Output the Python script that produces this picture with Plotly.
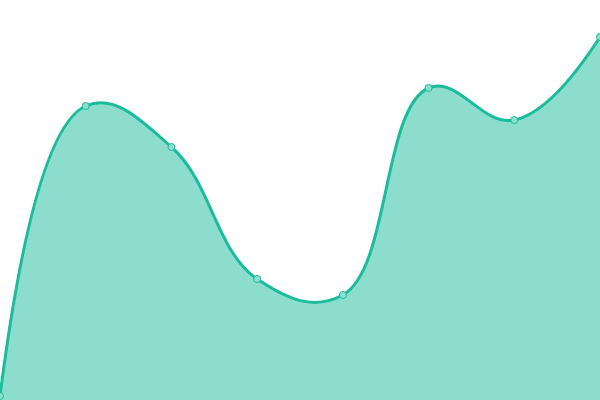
import plotly.graph_objects as go

x_vals = [0, 1, 2, 3, 4, 5, 6, 7]
y_vals = [4, 294, 253, 121, 105, 312, 280, 363]

fig = go.Figure()
fig.add_trace(go.Scatter(
    x=x_vals, y=y_vals,
    mode="lines+markers",
    line=dict(color="#1abc9c", width=3, shape="spline", smoothing=1.2),
    fill="tozeroy",
    fillcolor="rgba(26,188,156,0.5)",
    marker=dict(size=7, color="#8ce0cf", line=dict(color="#1abc9c", width=1)),
    cliponaxis=True,
    hoverinfo="skip",
))
fig.update_layout(
    width=600, height=400,
    margin=dict(l=0, r=0, t=0, b=0),
    paper_bgcolor="white", plot_bgcolor="white",
    showlegend=False,
    xaxis=dict(range=[0, 7], visible=False, fixedrange=True),
    yaxis=dict(range=[0, 400], visible=False, fixedrange=True),
)
fig.write_html("out.html", config={"displayModeBar": False, "staticPlot": True},
               post_script="document.body.style.margin='0';document.body.style.overflow='hidden';")
